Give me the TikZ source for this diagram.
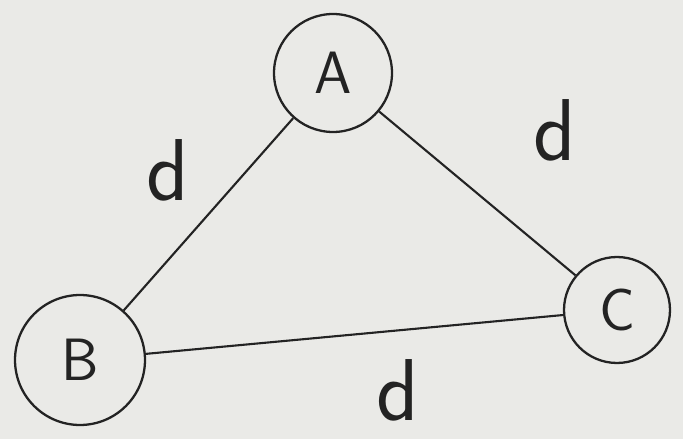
\documentclass[tikz,border=0pt]{standalone}
\usepackage{tikz}

\definecolor{paper}{RGB}{234,234,231}
\definecolor{pen}{RGB}{35,35,35}

\tikzset{
  station/.style={circle,draw=pen,line width=1.3pt,inner sep=0pt,
    font=\sffamily\fontsize{34}{36}\selectfont,text=pen},
  link/.style={draw=pen,line width=1.2pt},
  dist/.style={font=\sffamily\fontsize{50}{52}\selectfont,text=pen}
}

\begin{document}
\begin{tikzpicture}[x=0.02cm,y=-0.02cm]

% Paper background
\fill[paper] (0,0) rectangle (683,439);
\useasboundingbox (0,0) rectangle (683,439);

% Stations
\node[station,minimum size=2.36cm] (A) at (333,73) {A};
\node[station,minimum size=2.6cm] (B) at (80,360) {B};
\node[station,minimum size=2.12cm] (C) at (617,310) {C};

% Links
\draw[link] (A) -- (B);
\draw[link] (A) -- (C);
\draw[link] (B) -- (C);

% Distances
\node[dist] (dAB) at (168,170) {d};
\node[dist] (dAC) at (555,130) {d};
\node[dist] (dBC) at (398,390) {d};
\end{tikzpicture}
\end{document}
